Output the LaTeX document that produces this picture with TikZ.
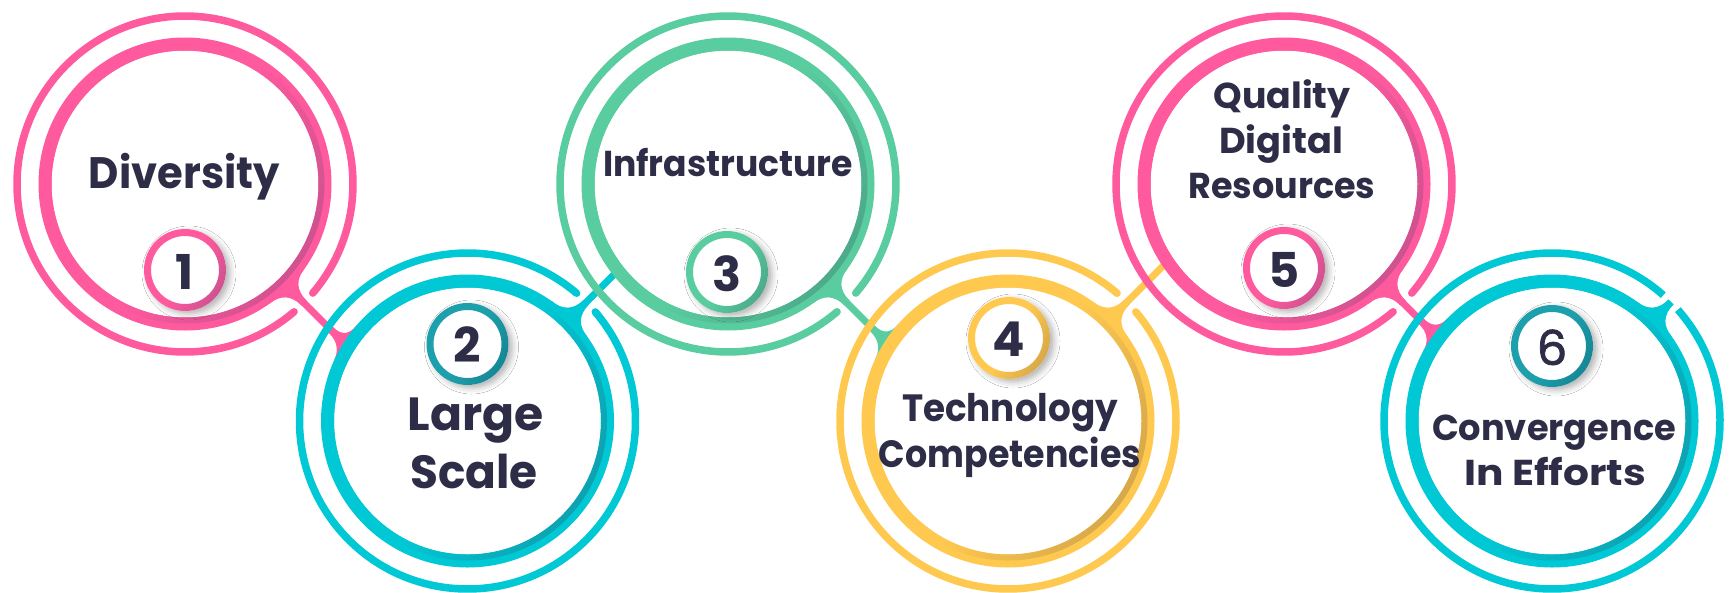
\documentclass[tikz,border=0pt]{standalone}
\usepackage{fontspec}
\setmainfont{Poppins}
\newfontfamily\sixfont{Poppins}[FakeBold=1.6]
\usetikzlibrary{calc,shadows.blur}
\definecolor{pmain}{HTML}{FF5A9E}
\definecolor{pdark}{HTML}{C24F8C}
\definecolor{cmain}{HTML}{00C8D5}
\definecolor{cdark}{HTML}{1396A6}
\definecolor{gmain}{HTML}{5ACDA0}
\definecolor{gdark}{HTML}{49A084}
\definecolor{ymain}{HTML}{FFC94F}
\definecolor{ydark}{HTML}{CC9F48}
\definecolor{tmain}{HTML}{1E9FAC}
\definecolor{tdark}{HTML}{13808F}
\definecolor{txt}{HTML}{2E2D47}
\pgfdeclarehorizontalshading{shP}{100bp}{color(0bp)=(pmain); color(50bp)=(pmain); color(82bp)=(pdark); color(100bp)=(pdark)}
\pgfdeclarehorizontalshading{shC}{100bp}{color(0bp)=(cmain); color(50bp)=(cmain); color(82bp)=(cdark); color(100bp)=(cdark)}
\pgfdeclarehorizontalshading{shG}{100bp}{color(0bp)=(gmain); color(50bp)=(gmain); color(82bp)=(gdark); color(100bp)=(gdark)}
\pgfdeclarehorizontalshading{shY}{100bp}{color(0bp)=(ymain); color(50bp)=(ymain); color(82bp)=(ydark); color(100bp)=(ydark)}
\pgfdeclarehorizontalshading{shT}{100bp}{color(0bp)=(tmain); color(50bp)=(tmain); color(82bp)=(tdark); color(100bp)=(tdark)}

\newcommand\ShAnn[4]{\shade[shading=#1,shading angle=-30] ($(#2)+(0:#3)$) arc[start angle=0,end angle=360,radius=#3] -- cycle ($(#2)+(0:#4)$) arc[start angle=360,end angle=0,radius=#4] -- cycle;}

% #1 centre, #2 colour, #3 shading, #4 exit angle, #5 cap, #6 gap half angle
\newcommand\BigRing[6]{%
  \draw[#2, line width=7.5pt, line cap=#5] ($(#1)+(#4+#6:168)$) arc[start angle=#4+#6, end angle=#4+360-#6, radius=168];
  \fill[#2, even odd rule] (#1) circle (146.5) (#1) circle (133.5);
  \ShAnn{#3}{#1}{139.5}{133.5}%
}

\newcommand\NumRing[2]{%
  \fill[white, blur shadow={shadow xshift=4pt,shadow yshift=-3pt,shadow blur radius=6pt,shadow opacity=30}] (#1) circle (41);
  \ShAnn{#2}{#1}{41}{34}%
}

% #1 Ox #2 Oy #3 dx #4 dy #5 Tx #6 Ty #7 offset #8 radius #9 name
\newcommand\Fside[9]{%
  \pgfmathsetmacro\Ff{\FilletLen}%
  \pgfmathsetmacro\Fnx{-1*(#4)}%
  \pgfmathsetmacro\Fny{#3}%
  \pgfmathsetmacro\Fox{#1+(#7)*(\Fnx)}%
  \pgfmathsetmacro\Foy{#2+(#7)*(\Fny)}%
  \pgfmathsetmacro\FDx{#5-(\Fox)}%
  \pgfmathsetmacro\FDy{#6-(\Foy)}%
  \pgfmathsetmacro\Fb{(#3)*(\FDx)+(#4)*(\FDy)}%
  \pgfmathsetmacro\Fq{((#3)*(\FDy)-(#4)*(\FDx))/(#8)}%
  \pgfmathsetmacro\Ft{(\Fb)-(#8)*sqrt(1-(\Fq)*(\Fq))}%
  \pgfmathsetmacro\FCx{(\Fox)+(\Ft)*(#3)}%
  \pgfmathsetmacro\FCy{(\Foy)+(\Ft)*(#4)}%
  \pgfmathsetmacro\FPx{(\FCx)-(\Ff)*(#3)}%
  \pgfmathsetmacro\FPy{(\FCy)-(\Ff)*(#4)}%
  \pgfmathsetmacro\Fa{atan2((\FCy)-(#6),(\FCx)-(#5))}%
  \pgfmathsetmacro\Ftv{(-sin(\Fa)*(\Fnx)+cos(\Fa)*(\Fny))*(#7)}%
  \pgfmathsetmacro\Fsg{(\Ftv)>0 ? 1 : -1}%
  \pgfmathsetmacro\Fqa{(\Fa)+(\Fsg)*(\Ff)/(#8)*57.2958}%
  \pgfmathsetmacro\FQx{#5+(#8)*cos(\Fqa)}%
  \pgfmathsetmacro\FQy{#6+(#8)*sin(\Fqa)}%
  \coordinate (#9C) at (\FCx,\FCy);%
  \coordinate (#9P) at (\FPx,\FPy);%
  \coordinate (#9Q) at (\FQx,\FQy);%
}
\newcommand\Fillets[3]{\fill[#1] (#2Q) .. controls ($(#2Q)!0.6667!(#2C)$) and ($(#2P)!0.6667!(#2C)$) .. (#2P) -- (#3P) .. controls ($(#3P)!0.6667!(#3C)$) and ($(#3Q)!0.6667!(#3C)$) .. (#3Q) -- cycle;}

\tikzset{
  lbl/.style={inner sep=0pt, anchor=base, text=txt, font=\bfseries\fontsize{#1}{#1}\selectfont},
  stemline/.style={line width=7pt},
}

\begin{document}
\begin{tikzpicture}[x=1pt,y=-1pt]
\useasboundingbox (0,0) rectangle (1733,592);
\fill[white] (0,0) rectangle (1733,592);

\coordinate (c1) at (185,184);
\coordinate (c2) at (467.5,421);
\coordinate (c3) at (728,184);
\coordinate (c4) at (1008,421);
\coordinate (c5) at (1284,184);
\coordinate (c6) at (1552,421);
\coordinate (n1) at (185,270);
\coordinate (n2) at (467.5,344);
\coordinate (n3) at (727,272);
\coordinate (n4) at (1009,338);
\coordinate (n5) at (1284,268);
\coordinate (n6) at (1552,346);

% ===== circle 1
\BigRing{c1}{pmain}{shP}{45}{round}{4.5}
\def\FilletLen{22}
\Fside{185+212.13}{184+212.13}{-0.70711}{-0.70711}{185}{184}{3.5}{146.5}{k1a}
\Fside{185+212.13}{184+212.13}{-0.70711}{-0.70711}{185}{184}{-3.5}{146.5}{k1b}
\Fillets{pmain}{k1a}{k1b}
\NumRing{n1}{shP}
\node[lbl=44] (t1) at (184.5,188) {\resizebox{191pt}{\height}{Diversity}};
\node[lbl=48] (d1) at (185,289) {1};
\def\FilletLen{18}
\Fside{185}{184}{0.70711}{0.70711}{467.5}{421}{3.5}{146.5}{w1a}
\Fside{185}{184}{0.70711}{0.70711}{467.5}{421}{-3.5}{146.5}{w1b}
\draw[stemline, pmain] ($(c1)+(45:140)$) -- ($(w1aC)!0.5!(w1bC)$);
\Fillets{pmain}{w1a}{w1b}

% ===== circle 2
\BigRing{c2}{cmain}{shC}{-45}{round}{4.5}
\def\FilletLen{22}
\Fside{467.5+212.13}{421-212.13}{-0.70711}{0.70711}{467.5}{421}{3.5}{146.5}{k2a}
\Fside{467.5+212.13}{421-212.13}{-0.70711}{0.70711}{467.5}{421}{-3.5}{146.5}{k2b}
\Fillets{cmain}{k2a}{k2b}
\NumRing{n2}{shT}
\node[lbl=46.5] (t2a) at (475.5,430.5) {\resizebox{136pt}{\height}{Large}};
\node[lbl=46.5] (t2b) at (474,488) {\resizebox{127.5pt}{\height}{Scale}};
\node[lbl=48] (d2) at (467.5,362) {2};
\Fside{467.5}{421}{0.70711}{-0.70711}{728}{184}{0}{140}{s2}
\draw[stemline, cmain] ($(c2)+(-45:140)$) -- (s2C);

% ===== circle 3
\BigRing{c3}{gmain}{shG}{45}{round}{4.5}
\def\FilletLen{22}
\Fside{728+212.13}{184+212.13}{-0.70711}{-0.70711}{728}{184}{3.5}{146.5}{k3a}
\Fside{728+212.13}{184+212.13}{-0.70711}{-0.70711}{728}{184}{-3.5}{146.5}{k3b}
\Fillets{gmain}{k3a}{k3b}
\NumRing{n3}{shG}
\node[lbl=36] (t3) at (728,176) {\resizebox{250pt}{\height}{Infrastructure}};
\node[lbl=48] (d3) at (727,291) {3};
\def\FilletLen{18}
\Fside{728}{184}{0.70711}{0.70711}{1008}{421}{3.5}{146.5}{w3a}
\Fside{728}{184}{0.70711}{0.70711}{1008}{421}{-3.5}{146.5}{w3b}
\draw[stemline, gmain] ($(c3)+(45:140)$) -- ($(w3aC)!0.5!(w3bC)$);
\Fillets{gmain}{w3a}{w3b}

% ===== circle 4
\BigRing{c4}{ymain}{shY}{-45}{round}{4.5}
\def\FilletLen{22}
\Fside{1008+212.13}{421-212.13}{-0.70711}{0.70711}{1008}{421}{3.5}{146.5}{k4a}
\Fside{1008+212.13}{421-212.13}{-0.70711}{0.70711}{1008}{421}{-3.5}{146.5}{k4b}
\Fillets{ymain}{k4a}{k4b}
\NumRing{n4}{shY}
\node[lbl=38] (t4a) at (1010,421) {\resizebox{216pt}{\height}{Technology}};
\node[lbl=38] (t4b) at (1010,467) {\resizebox{262pt}{\height}{Competencies}};
\node[lbl=48] (d4) at (1009,356) {4};
\Fside{1008}{421}{0.70711}{-0.70711}{1284}{184}{0}{140}{s4}
\draw[stemline, ymain] ($(c4)+(-45:140)$) -- (s4C);

% ===== circle 5
\BigRing{c5}{pmain}{shP}{45}{round}{4.5}
\def\FilletLen{22}
\Fside{1284+212.13}{184+212.13}{-0.70711}{-0.70711}{1284}{184}{3.5}{146.5}{k5a}
\Fside{1284+212.13}{184+212.13}{-0.70711}{-0.70711}{1284}{184}{-3.5}{146.5}{k5b}
\Fillets{pmain}{k5a}{k5b}
\NumRing{n5}{shP}
\node[lbl=36] (t5a) at (1282,108) {\resizebox{137pt}{\height}{Quality}};
\node[lbl=36] (t5b) at (1281,153) {\resizebox{124pt}{\height}{Digital}};
\node[lbl=36] (t5c) at (1282,198) {\resizebox{187pt}{\height}{Resources}};
\node[lbl=48] (d5) at (1284,287) {5};
\def\FilletLen{18}
\Fside{1284}{184}{0.70711}{0.70711}{1552}{421}{3.5}{146.5}{w5a}
\Fside{1284}{184}{0.70711}{0.70711}{1552}{421}{-3.5}{146.5}{w5b}
\draw[stemline, pmain] ($(c5)+(45:140)$) -- ($(w5aC)!0.5!(w5bC)$);
\Fillets{pmain}{w5a}{w5b}

% ===== circle 6
\BigRing{c6}{cmain}{shC}{-45}{butt}{3.5}
\def\FilletLen{22}
\Fside{1552+212.13}{421-212.13}{-0.70711}{0.70711}{1552}{421}{3.5}{146.5}{k6a}
\Fside{1552+212.13}{421-212.13}{-0.70711}{0.70711}{1552}{421}{-3.5}{146.5}{k6b}
\Fillets{cmain}{k6a}{k6b}
\draw[stemline, cmain] ($(c6)+(-45:140)$) -- ($(c6)+(-45:168)$);
\NumRing{n6}{shT}
\node[lbl=36] (t6a) at (1554,440) {\resizebox{244pt}{\height}{Convergence}};
\node[lbl=36] (t6b) at (1555,485) {\resizebox{182pt}{\height}{In Efforts}};
\node[lbl=48, font=\sixfont\fontsize{48}{48}\selectfont] (d6) at (1552,365) {6};
\end{tikzpicture}
\end{document}
